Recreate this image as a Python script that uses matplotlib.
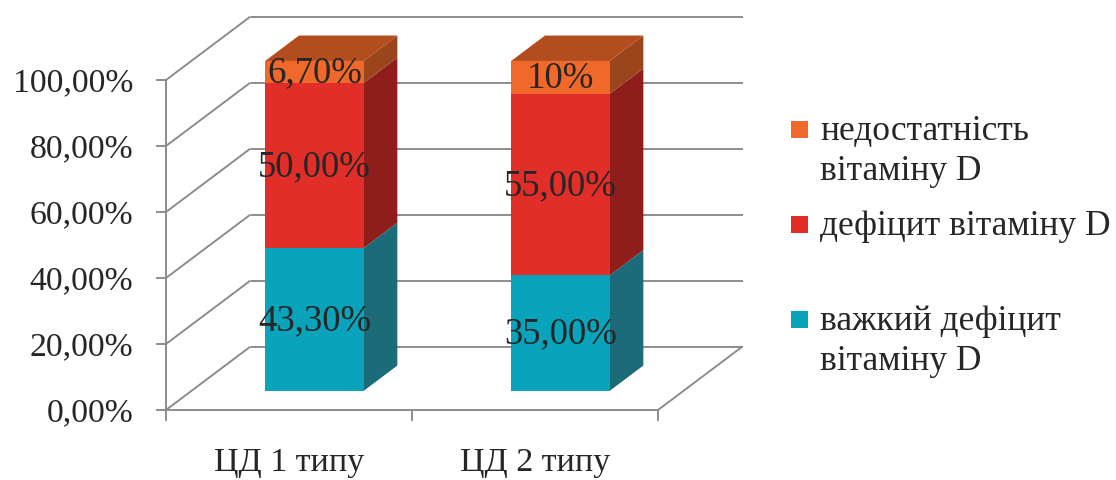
import matplotlib
matplotlib.use('Agg')
import matplotlib.pyplot as plt
from matplotlib.patches import Polygon, Rectangle

# ---------------- data ----------------
categories = ['ЦД 1 типу', 'ЦД 2 типу']
series_names = ['важкий дефіцит\nвітаміну D', 'дефіцит вітаміну D', 'недостатність\nвітаміну D']
severe_deficit = [43.3, 35.0]
deficit = [50.0, 55.0]
insufficiency = [6.7, 10.0]
severe_labels = ['43,30%', '35,00%']
deficit_labels = ['50,00%', '55,00%']
insufficiency_labels = ['6,70%', '10%']
y_ticks = [0, 20, 40, 60, 80, 100]
y_tick_labels = ['0,00%', '20,00%', '40,00%', '60,00%', '80,00%', '100,00%']

series_values = [severe_deficit, deficit, insufficiency]
series_labels = [severe_labels, deficit_labels, insufficiency_labels]

# ---------------- style ----------------
FONT = 'Liberation Serif'
TXT = '#262626'
GRID = '#8c8c8c'
front_cols = ['#0aa3bc', '#e12e29', '#f0682a']
side_cols = ['#1b6b78', '#8e1d1b', '#9a451b']
top_cols = ['#127a8a', '#a82420', '#b34d1d']

W, H, DPI = 1116, 481, 100
# pixel geometry of the front plane / depth
X0, UX = 166.0, 246.0      # px of category 0, px per category
Y0, UY = 411.0, 3.3        # px of 0 %, px per percent
DXp, DYp = 84.5, 63.5      # full depth offset in px

fig = plt.figure(figsize=(W / DPI, H / DPI), dpi=DPI)
ax = fig.add_axes([0, 0, 1, 1])
ax.set_xlim(-X0 / UX, (W - X0) / UX)
ax.set_ylim(-(H - Y0) / UY, Y0 / UY)
ax.axis('off')

ddx, ddy = DXp / UX, DYp / UY
px_x, px_y = 1.0 / UX, 1.0 / UY


def P(x, v, d):
    return (x + d * ddx, v + d * ddy)


def line(p, q, **kw):
    ax.plot([p[0], q[0]], [p[1], q[1]], color=GRID, lw=1.4,
            solid_capstyle='butt', zorder=1, **kw)


ncat = len(categories)
vmax = y_ticks[-1]

# walls / gridlines
for v, lab in zip(y_ticks, y_tick_labels):
    line(P(0, v, 1), P(ncat, v, 1))
    line(P(0, v, 0), P(0, v, 1))
    # y tick
    line((-10 * px_x, v), (0, v))
    ax.text(-33 * px_x, v - 0.6, lab, ha='right', va='center',
            fontsize=24.3, family=FONT, color=TXT)
# floor
line(P(0, 0, 0), P(ncat, 0, 0))
line(P(ncat, 0, 0), P(ncat, 0, 1))
# value axis
line(P(0, 0, 0), P(0, vmax, 0))
# category ticks
for i in range(ncat + 1):
    line((i, 0), (i, -11 * px_y))
for i, c in enumerate(categories):
    ax.text(i + 0.5, -60 * px_y, c, ha='center', va='baseline', fontsize=24.5,
            family=FONT, color=TXT)

# bars
bw0, bw1 = 0.3, 0.7     # bar extent inside a category
d0, d1 = 0.3, 0.7       # bar extent in depth
for i in range(ncat):
    base = 0.0
    xa, xb = i + bw0, i + bw1
    for s, vals in enumerate(series_values):
        top = base + vals[i]
        front = [P(xa, base, d0), P(xb, base, d0), P(xb, top, d0), P(xa, top, d0)]
        side = [P(xb, base, d0), P(xb, base, d1), P(xb, top, d1), P(xb, top, d0)]
        ax.add_patch(Polygon(side, closed=True, fc=side_cols[s], ec='none', zorder=3))
        ax.add_patch(Polygon(front, closed=True, fc=front_cols[s], ec='none', zorder=3))
        if s == len(series_values) - 1:
            tp = [P(xa, top, d0), P(xb, top, d0), P(xb, top, d1), P(xa, top, d1)]
            ax.add_patch(Polygon(tp, closed=True, fc=top_cols[s], ec='none', zorder=3))
        cx, cy = P((xa + xb) / 2, (base + top) / 2, d0)
        ax.text(cx, cy, series_labels[s][i], ha='center', va='center', fontsize=26.5,
                family=FONT, color=TXT, zorder=5)
        base = top

# legend (drawn manually in axes fraction coordinates)
leg_items = [(2, 130), (1, 225), (0, 320)]   # series index, marker centre px from top
LINE_GAP = 40
for s, yc in leg_items:
    ax.add_patch(Rectangle((791 / W, 1 - (yc + 8.5) / H), 17 / W, 17 / H,
                           transform=ax.transAxes, fc=front_cols[s], ec='none'))
    for k, part in enumerate(series_names[s].split('\n')):
        ax.text(820 / W, 1 - (yc + 10 + k * LINE_GAP) / H, part,
                transform=ax.transAxes, ha='left', va='baseline', fontsize=25.5,
                family=FONT, color=TXT)

fig.savefig('out.png', dpi=DPI)
